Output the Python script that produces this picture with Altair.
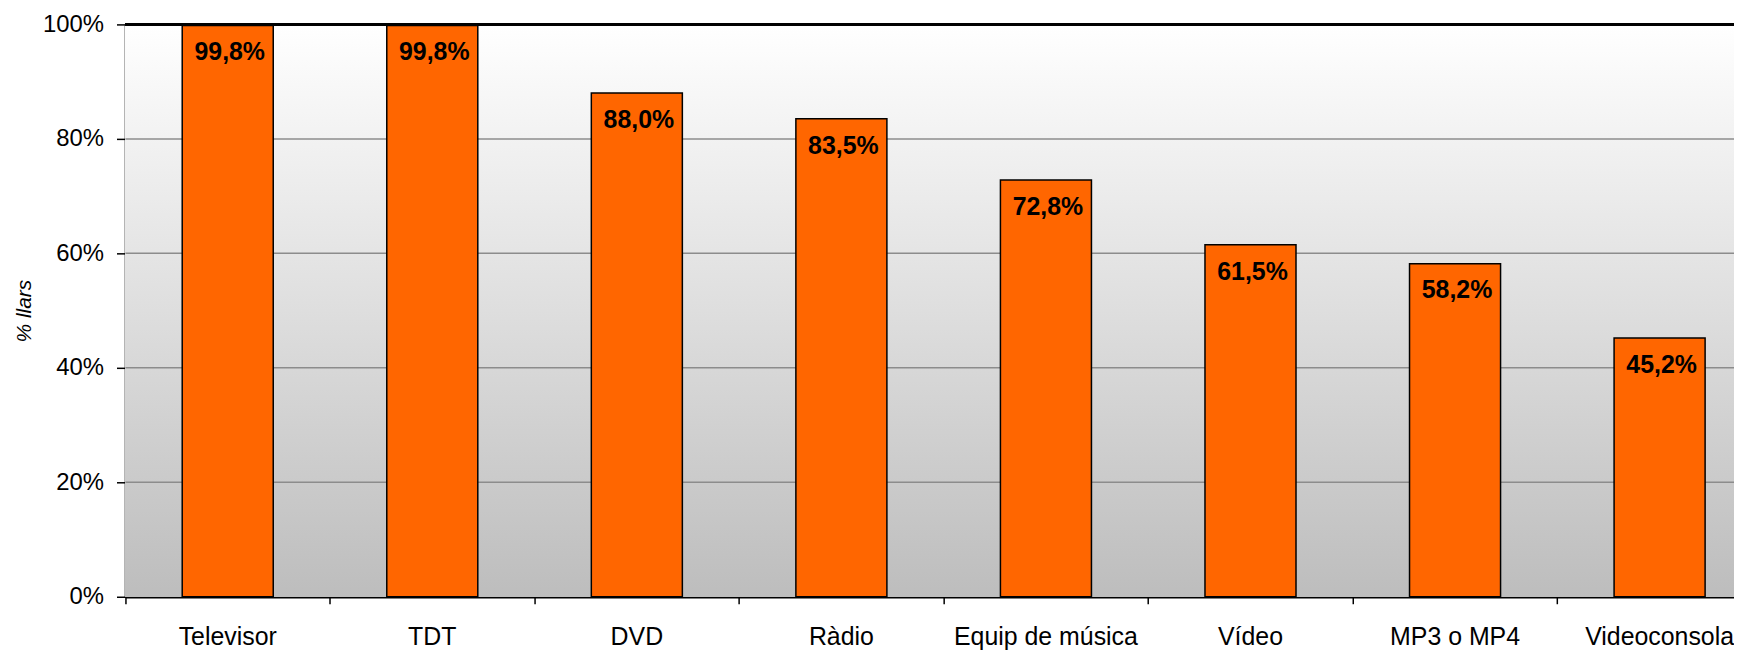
import altair as alt
import pandas as pd

categories = ["Televisor", "TDT", "DVD", "Ràdio", "Equip de música", "Vídeo", "MP3 o MP4", "Videoconsola"]
values = [99.8, 99.8, 88.0, 83.5, 72.8, 61.5, 58.2, 45.2]
y_ticks = [0, 20, 40, 60, 80, 100]

df = pd.DataFrame({"cat": categories, "val": values})
grid_df = pd.DataFrame({"val": y_ticks[1:-1]})

W = 1616
H = 575
FONT = "Liberation Sans"
PAD_IN = 0.555
PAD_OUT = PAD_IN / 2
# place x ticks at the boundaries between steps
TICK_BAND = -PAD_IN / (2 * (1 - PAD_IN))

y_scale = alt.Scale(domain=[0, 100], nice=False)
y_axis = alt.Axis(
    values=y_ticks,
    labelExpr="datum.value + '%'",
    title="% llars",
    titleFont=FONT,
    titleFontSize=21,
    titleFontStyle="italic",
    titleFontWeight="normal",
    titleColor="black",
    titleX=-101,
    titleY=H / 2,
    titleBaseline="middle",
    titleAngle=270,
    labelFont=FONT,
    labelFontSize=24,
    labelColor="black",
    labelPadding=13,
    tickColor="black",
    tickSize=9,
    tickWidth=1.5,
    domainColor="black",
    domainWidth=2.5,
    grid=False,
)

x_enc = alt.X(
    "cat:N",
    sort=categories,
    scale=alt.Scale(range=[0, 1644], paddingInner=PAD_IN, paddingOuter=PAD_OUT),
    axis=alt.Axis(
        title=None,
        labelAngle=0,
        labelFont=FONT,
        labelFontSize=25,
        labelColor="black",
        labelPadding=21,
        labelLimit=0,
        bandPosition=TICK_BAND,
        tickColor="black",
        tickSize=7,
        tickWidth=1.5,
        domainColor="black",
        domainWidth=2.5,
        grid=False,
    ),
)

y_enc = alt.Y("val:Q", scale=y_scale, axis=y_axis, title="% llars")

bg = alt.Chart(df).mark_rect(
    color=alt.Gradient(
        gradient="linear",
        stops=[alt.GradientStop(color="#ffffff", offset=0), alt.GradientStop(color="#bdbdbd", offset=1)],
        x1=0, x2=0, y1=0, y2=1,
    )
).encode(x=alt.value(0), x2=alt.value(W), y=alt.value(0), y2=alt.value(H))

grid = alt.Chart(grid_df).mark_rule(color="#8c8c8c", strokeWidth=1.5).encode(
    y=y_enc, x=alt.value(0), x2=alt.value(W)
)

bars = alt.Chart(df).mark_bar(color="#ff6600", stroke="black", strokeWidth=1.5).encode(
    x=x_enc, y=y_enc
)

labels = alt.Chart(df).transform_calculate(
    lab="replace(format(datum.val, '.1f'), '.', ',') + '%'"
).mark_text(
    font=FONT, fontSize=25, fontWeight="bold", color="black", baseline="alphabetic", dy=35, dx=2
).encode(x=alt.X("cat:N", sort=categories), y=y_enc, text="lab:N")

top_rule = alt.Chart(df).mark_rule(color="black", strokeWidth=2.5).encode(
    x=alt.value(0), x2=alt.value(W), y=alt.value(0)
)

chart = alt.layer(bg, grid, bars, labels, top_rule).properties(
    width=W,
    height=H,
    autosize=alt.AutoSizeParams(type="none"),
    padding={"left": 118, "top": 15, "right": 0, "bottom": 52},
    background="white",
).configure_view(stroke=None)

chart.save("out.html", embed_options={"renderer": "svg", "actions": False})
